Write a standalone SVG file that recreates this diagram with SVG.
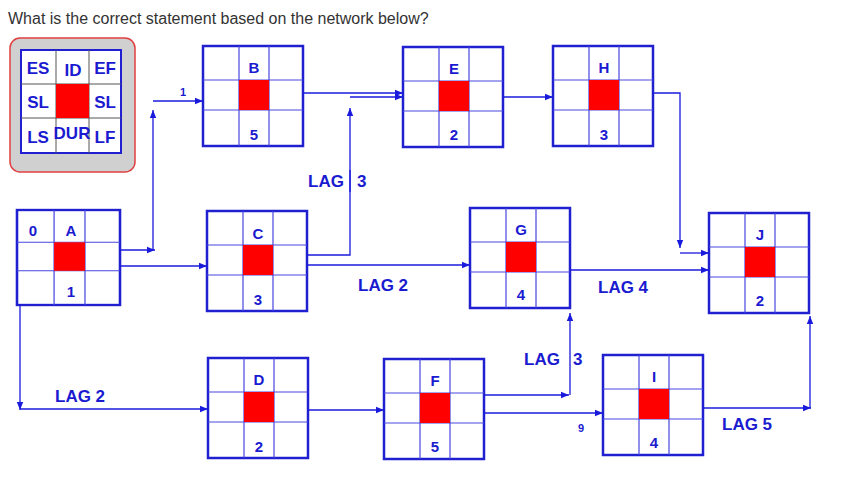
<svg xmlns="http://www.w3.org/2000/svg" width="857" height="486" viewBox="0 0 857 486">
<defs>
<marker id="ar" viewBox="0 0 10 10" refX="10" refY="5" markerWidth="8" markerHeight="8" orient="auto" markerUnits="userSpaceOnUse"><path d="M0,1 L10,5 L0,9 Z" fill="#1a1adc"/></marker>
<style>
.box{fill:#fff;stroke:#2020d0;stroke-width:2.5}
.g{stroke:#4848e0;stroke-width:1.2}
.red{fill:#f00}
.t{font-family:"Liberation Sans",Arial,sans-serif;font-weight:bold;font-size:15px;fill:#1a1ad0;text-anchor:middle}
.lt{font-family:"Liberation Sans",Arial,sans-serif;font-weight:bold;font-size:17px;fill:#1a1ad0;text-anchor:middle}
.lag{font-family:"Liberation Sans",Arial,sans-serif;font-weight:bold;font-size:17px;fill:#1a1ad0}
.c{fill:none;stroke:#1a1adc;stroke-width:1.3;marker-end:url(#ar)}
</style>
<g id="cell">
<rect class="box" x="0" y="0" width="100" height="100"/>
<path class="g" d="M36,0V100M66,0V100M0,34H100M0,64H100"/>
<rect class="red" x="36" y="34" width="30" height="30"/>
</g>
</defs>
<rect width="857" height="486" fill="#fff"/>
<text x="8" y="24" font-family="Liberation Sans,Arial,sans-serif" font-size="16" fill="#333">What is the correct statement based on the network below?</text>

<g id="legend">
<rect x="10" y="38" width="125" height="134" rx="10" fill="#d0d0d0" stroke="#e04040" stroke-width="1.5"/>
<rect x="21" y="50" width="100" height="103" fill="#fff" stroke="#2020d0" stroke-width="2"/>
<path d="M56,50V153M89,50V153M21,84H121M21,118H121" stroke="#555" stroke-width="1"/>
<rect class="red" x="56" y="84" width="33" height="34"/>
<text class="lt" x="38" y="74">ES</text><text class="lt" x="73" y="76">ID</text><text class="lt" x="105" y="74">EF</text>
<text class="lt" x="38" y="108">SL</text><text class="lt" x="105" y="108">SL</text>
<text class="lt" x="38" y="143">LS</text><text class="lt" x="72" y="139" font-size="15">DUR</text><text class="lt" x="105" y="143">LF</text>
</g>

<g id="A"><use href="#cell" transform="translate(17,210) scale(1.03,0.95)"/><text class="t" x="33" y="236">0</text><text class="t" x="71" y="236">A</text><text class="t" x="71" y="297">1</text></g>
<g id="B"><use href="#cell" transform="translate(203,46)"/><text class="t" x="254" y="73">B</text><text class="t" x="254" y="140">5</text></g>
<g id="C"><use href="#cell" transform="translate(207,211)"/><text class="t" x="258" y="239">C</text><text class="t" x="258" y="305">3</text></g>
<g id="D"><use href="#cell" transform="translate(208,358)"/><text class="t" x="259" y="385">D</text><text class="t" x="259" y="452">2</text></g>
<g id="E"><use href="#cell" transform="translate(403,47)"/><text class="t" x="454" y="74">E</text><text class="t" x="454" y="140">2</text></g>
<g id="F"><use href="#cell" transform="translate(384,359)"/><text class="t" x="435" y="386">F</text><text class="t" x="435" y="452">5</text></g>
<g id="G"><use href="#cell" transform="translate(470,208)"/><text class="t" x="521" y="235">G</text><text class="t" x="521" y="300">4</text></g>
<g id="H"><use href="#cell" transform="translate(553,46)"/><text class="t" x="604" y="73">H</text><text class="t" x="604" y="140">3</text></g>
<g id="I"><use href="#cell" transform="translate(603,355)"/><text class="t" x="654" y="382">I</text><text class="t" x="654" y="448">4</text></g>
<g id="J"><use href="#cell" transform="translate(709,213)"/><text class="t" x="760" y="240">J</text><text class="t" x="760" y="306">2</text></g>

<g id="connectors">
<path class="c" d="M120,250H155"/>
<path class="c" d="M153,250V110"/>
<path class="c" d="M153,101H203"/>
<text x="180" y="96" font-family="Liberation Sans,Arial,sans-serif" font-weight="bold" font-size="11" fill="#1a1ad0">1</text>
<path class="c" d="M120,266H207"/>
<path class="c" d="M307,255H350V108"/>
<path class="c" d="M350,97H403"/>
<text class="lag" x="308" y="187">LAG</text><line x1="350" y1="170" x2="350" y2="192" stroke="#1a1adc" stroke-width="1.3"/><text class="lag" x="357" y="187">3</text>
<path class="c" d="M307,265H470"/>
<text class="lag" x="358" y="291">LAG  2</text>
<path class="c" d="M303,93H403"/>
<path class="c" d="M502,97H553"/>
<path class="c" d="M653,93H680V248"/>
<path class="c" d="M680,253H709"/>
<path class="c" d="M570,270H709"/>
<text class="lag" x="598" y="293">LAG  4</text>
<path class="c" d="M20,305V410"/>
<path class="c" d="M20,409H208"/>
<text class="lag" x="55" y="402">LAG 2</text>
<path class="c" d="M308,410H384"/>
<path class="c" d="M484,395H569"/>
<path class="c" d="M570,395V313"/>
<text class="lag" x="524" y="365">LAG</text><text class="lag" x="573" y="365">3</text>
<path class="c" d="M484,413H603"/>
<text x="578" y="432" font-family="Liberation Sans,Arial,sans-serif" font-weight="bold" font-size="11" fill="#1a1ad0">9</text>
<path class="c" d="M703,408H811"/>
<path class="c" d="M810,408V316"/>
<text class="lag" x="722" y="430">LAG  5</text>
</g>
</svg>
